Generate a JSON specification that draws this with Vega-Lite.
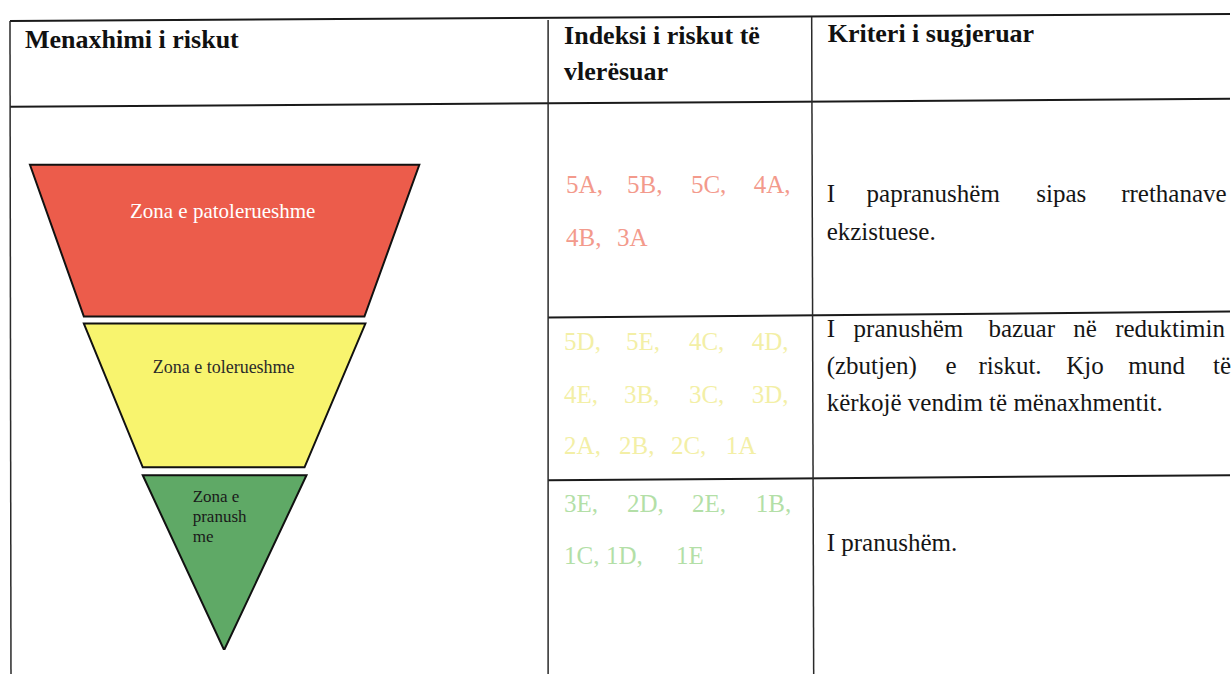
{
  "$schema": "https://vega.github.io/schema/vega-lite/v6.json",
  "width": 1232,
  "height": 675,
  "padding": 0,
  "autosize": {"type": "fit", "contains": "padding"},
  "background": "white",
  "config": {"view": {"stroke": null}},
  "datasets": {
    "zones": [
      {"zone": "pa", "y": 165, "xl": 30, "xr": 420},
      {"zone": "pa", "y": 317, "xl": 84, "xr": 365},
      {"zone": "to", "y": 324, "xl": 84, "xr": 366},
      {"zone": "to", "y": 468, "xl": 143, "xr": 305},
      {"zone": "pr", "y": 476, "xl": 143, "xr": 307},
      {"zone": "pr", "y": 650, "xl": 224, "xr": 225}
    ],
    "hlines": [
      {"x": 10, "y": 21, "x2": 1232, "y2": 14},
      {"x": 10, "y": 107, "x2": 1232, "y2": 99},
      {"x": 549, "y": 318, "x2": 1232, "y2": 312},
      {"x": 549, "y": 481, "x2": 1232, "y2": 476}
    ],
    "vlines": [
      {"x": 10, "y": 21, "x2": 11, "y2": 675},
      {"x": 549, "y": 20, "x2": 549, "y2": 675},
      {"x": 813, "y": 17, "x2": 815, "y2": 675}
    ],
    "headers": [
      {"t": "Menaxhimi i riskut", "x": 25, "y": 48},
      {"t": "Indeksi i riskut të", "x": 565, "y": 44},
      {"t": "vlerësuar", "x": 565, "y": 80},
      {"t": "Kriteri i sugjeruar", "x": 829, "y": 42}
    ],
    "codes": [
      {"g": "red", "t": "5A,", "x": 567, "y": 193},
      {"g": "red", "t": "5B,", "x": 628, "y": 193},
      {"g": "red", "t": "5C,", "x": 692, "y": 193},
      {"g": "red", "t": "4A,", "x": 755, "y": 193},
      {"g": "red", "t": "4B,", "x": 567, "y": 246},
      {"g": "red", "t": "3A", "x": 618, "y": 246},
      {"g": "yellow", "t": "5D,", "x": 565, "y": 351},
      {"g": "yellow", "t": "5E,", "x": 627, "y": 351},
      {"g": "yellow", "t": "4C,", "x": 690, "y": 351},
      {"g": "yellow", "t": "4D,", "x": 753, "y": 351},
      {"g": "yellow", "t": "4E,", "x": 565, "y": 404},
      {"g": "yellow", "t": "3B,", "x": 625, "y": 404},
      {"g": "yellow", "t": "3C,", "x": 690, "y": 404},
      {"g": "yellow", "t": "3D,", "x": 753, "y": 404},
      {"g": "yellow", "t": "2A,", "x": 565, "y": 455},
      {"g": "yellow", "t": "2B,", "x": 620, "y": 455},
      {"g": "yellow", "t": "2C,", "x": 672, "y": 455},
      {"g": "yellow", "t": "1A", "x": 727, "y": 455},
      {"g": "green", "t": "3E,", "x": 565, "y": 513},
      {"g": "green", "t": "2D,", "x": 628, "y": 513},
      {"g": "green", "t": "2E,", "x": 693, "y": 513},
      {"g": "green", "t": "1B,", "x": 757, "y": 513},
      {"g": "green", "t": "1C,", "x": 565, "y": 565},
      {"g": "green", "t": "1D,", "x": 607, "y": 565},
      {"g": "green", "t": "1E", "x": 677, "y": 565}
    ],
    "criteria": [
      {"t": "I", "x": 828, "y": 202},
      {"t": "papranushëm", "x": 868, "y": 202},
      {"t": "sipas", "x": 1038, "y": 202},
      {"t": "rrethanave", "x": 1123, "y": 202},
      {"t": "ekzistuese.", "x": 828, "y": 240},
      {"t": "I", "x": 828, "y": 337},
      {"t": "pranushëm", "x": 855, "y": 337},
      {"t": "bazuar", "x": 990, "y": 337},
      {"t": "në", "x": 1075, "y": 337},
      {"t": "reduktimin", "x": 1117, "y": 337},
      {"t": "(zbutjen)", "x": 828, "y": 375},
      {"t": "e", "x": 947, "y": 375},
      {"t": "riskut.", "x": 980, "y": 375},
      {"t": "Kjo", "x": 1068, "y": 375},
      {"t": "mund", "x": 1130, "y": 375},
      {"t": "të", "x": 1215, "y": 375},
      {"t": "kërkojë vendim të mënaxhmentit.", "x": 828, "y": 412},
      {"t": "I pranushëm.", "x": 828, "y": 552}
    ],
    "zlabels": [
      {"zone": "pa", "t": "Zona e patolerueshme", "x": 223, "y": 212},
      {"zone": "to", "t": "Zona e tolerueshme", "x": 224, "y": 369}
    ],
    "glabels": [
      {"t": "Zona e", "x": 193, "y": 498},
      {"t": "pranush", "x": 193, "y": 518},
      {"t": "me", "x": 193, "y": 538}
    ]
  },
  "resolve": {"scale": {"color": "independent"}},
  "layer": [
    {
      "data": {"name": "zones"},
      "mark": {"type": "area", "orient": "horizontal", "stroke": "#111111", "strokeWidth": 2, "opacity": 1, "fillOpacity": 1},
      "encoding": {
        "y": {"field": "y", "type": "quantitative", "scale": {"domain": [0, 675], "reverse": true, "nice": false, "zero": false}, "axis": null},
        "x": {"field": "xl", "type": "quantitative", "stack": null, "scale": {"domain": [0, 1232], "nice": false, "zero": false}, "axis": null},
        "x2": {"field": "xr"},
        "color": {"field": "zone", "type": "nominal", "scale": {"domain": ["pa", "to", "pr"], "range": ["#ec5c4b", "#f8f46e", "#5fa966"]}, "legend": null}
      }
    },
    {
      "data": {"name": "hlines"},
      "mark": {"type": "rule", "color": "#1a1a1a", "strokeWidth": 2},
      "encoding": {
        "x": {"field": "x", "type": "quantitative"},
        "y": {"field": "y", "type": "quantitative"},
        "x2": {"field": "x2"},
        "y2": {"field": "y2"}
      }
    },
    {
      "data": {"name": "vlines"},
      "mark": {"type": "rule", "color": "#2a2a2a", "strokeWidth": 1.5},
      "encoding": {
        "x": {"field": "x", "type": "quantitative"},
        "y": {"field": "y", "type": "quantitative"},
        "x2": {"field": "x2"},
        "y2": {"field": "y2"}
      }
    },
    {
      "data": {"name": "headers"},
      "mark": {"type": "text", "font": "Liberation Serif", "fontWeight": "bold", "fontSize": 26, "align": "left", "baseline": "alphabetic", "color": "#111111"},
      "encoding": {
        "x": {"field": "x", "type": "quantitative"},
        "y": {"field": "y", "type": "quantitative"},
        "text": {"field": "t"}
      }
    },
    {
      "data": {"name": "codes"},
      "mark": {"type": "text", "font": "Liberation Serif", "fontSize": 25, "align": "left", "baseline": "alphabetic"},
      "encoding": {
        "x": {"field": "x", "type": "quantitative"},
        "y": {"field": "y", "type": "quantitative"},
        "text": {"field": "t"},
        "color": {"field": "g", "type": "nominal", "scale": {"domain": ["red", "yellow", "green"], "range": ["#f39a8c", "#f3efa6", "#b3dfa7"]}, "legend": null}
      }
    },
    {
      "data": {"name": "criteria"},
      "mark": {"type": "text", "font": "Liberation Serif", "fontSize": 25, "align": "left", "baseline": "alphabetic", "color": "#151515"},
      "encoding": {
        "x": {"field": "x", "type": "quantitative"},
        "y": {"field": "y", "type": "quantitative"},
        "text": {"field": "t"}
      }
    },
    {
      "data": {"name": "zlabels"},
      "transform": [{"filter": "datum.zone === 'pa'"}],
      "mark": {"type": "text", "font": "Liberation Serif", "fontSize": 21, "align": "center", "baseline": "middle", "color": "#ffffff"},
      "encoding": {
        "x": {"field": "x", "type": "quantitative"},
        "y": {"field": "y", "type": "quantitative"},
        "text": {"field": "t"}
      }
    },
    {
      "data": {"name": "zlabels"},
      "transform": [{"filter": "datum.zone === 'to'"}],
      "mark": {"type": "text", "font": "Liberation Serif", "fontSize": 18, "align": "center", "baseline": "middle", "color": "#2a2a2a"},
      "encoding": {
        "x": {"field": "x", "type": "quantitative"},
        "y": {"field": "y", "type": "quantitative"},
        "text": {"field": "t"}
      }
    },
    {
      "data": {"name": "glabels"},
      "mark": {"type": "text", "font": "Liberation Serif", "fontSize": 17, "align": "left", "baseline": "middle", "color": "#1a1a1a"},
      "encoding": {
        "x": {"field": "x", "type": "quantitative"},
        "y": {"field": "y", "type": "quantitative"},
        "text": {"field": "t"}
      }
    }
  ]
}
